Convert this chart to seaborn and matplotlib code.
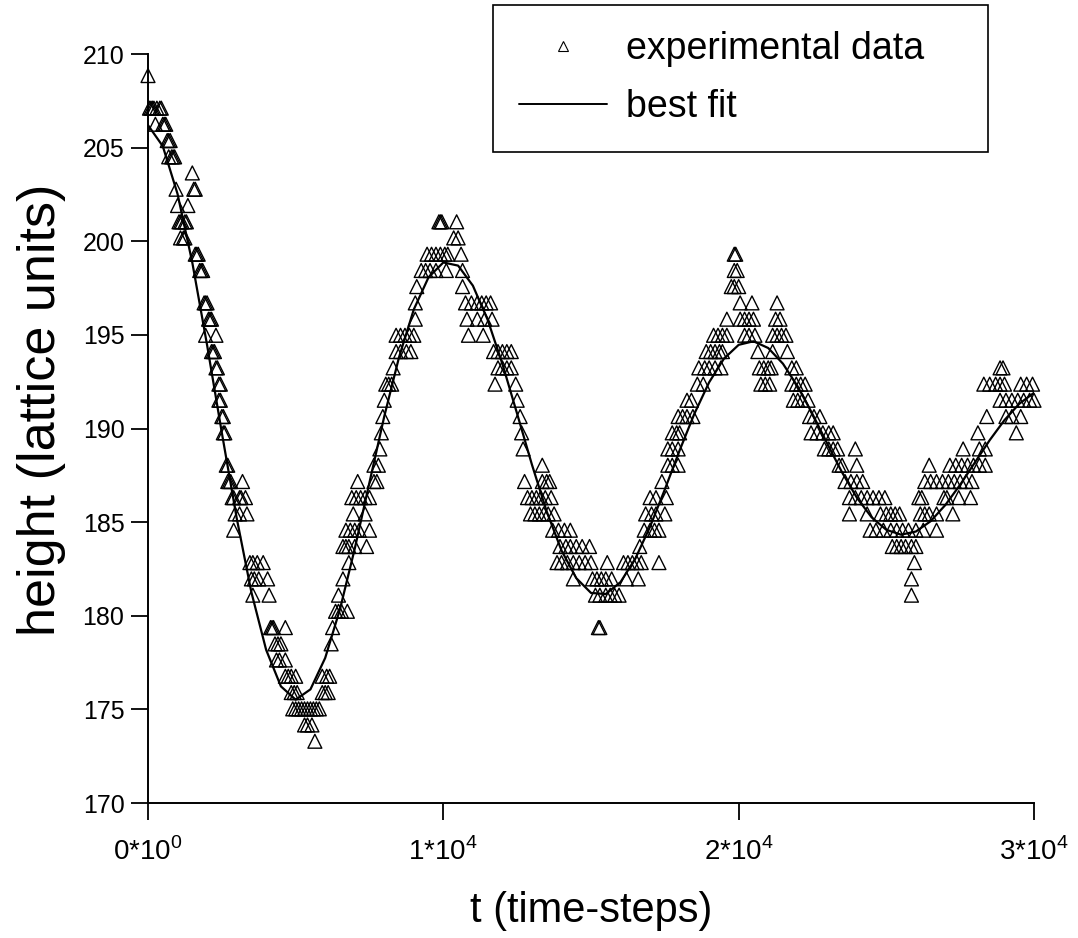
import matplotlib

matplotlib.use("Agg")
import matplotlib.pyplot as plt
from matplotlib.lines import Line2D
import pandas as pd
import seaborn as sns

# experimental data, read off the plot as (time-step, height) pairs,
# split by half swing of the oscillation
fall1 = [
    (0, 208.85),
    (50, 207.11), (100, 207.11), (150, 207.11), (200, 207.11), (300, 207.11), (400, 207.11), (450, 207.11),
    (250, 206.25), (500, 206.25), (550, 206.25), (600, 206.25),
    (650, 205.38), (700, 205.38), (750, 205.38),
    (700, 204.51), (800, 204.51), (850, 204.51), (900, 204.51),
    (1500, 203.65),
    (950, 202.78), (1550, 202.78), (1600, 202.78),
    (1000, 201.91), (1350, 201.91),
    (1050, 201.04), (1100, 201.04), (1150, 201.04), (1250, 201.04), (1300, 201.04),
    (1100, 200.18), (1200, 200.18), (1250, 200.18),
    (1600, 199.31), (1650, 199.31), (1700, 199.31),
    (1750, 198.44), (1800, 198.44), (1850, 198.44),
    (1900, 196.71), (1950, 196.71), (2000, 196.71),
    (2050, 195.84), (2100, 195.84), (2150, 195.84),
    (1950, 194.98), (2300, 194.98),
    (2150, 194.11), (2200, 194.11), (2250, 194.11),
    (2300, 193.24), (2350, 193.24),
    (2400, 192.37), (2450, 192.37),
    (2400, 191.51), (2450, 191.51),
    (2500, 190.64), (2550, 190.64),
    (2550, 189.77), (2600, 189.77),
    (2650, 188.04), (2700, 188.04),
    (2700, 187.17), (2750, 187.17), (2800, 187.17), (3200, 187.17),
    (2850, 186.31), (2900, 186.31), (3100, 186.31), (3150, 186.31), (3300, 186.31),
    (2950, 185.44), (3100, 185.44), (3350, 185.44),
    (2900, 184.57),
    (3450, 182.84), (3550, 182.84), (3700, 182.84), (3900, 182.84),
    (3500, 181.97), (3600, 181.97), (3750, 181.97), (4050, 181.97),
    (3550, 181.10), (4100, 181.10),
    (4150, 179.37), (4200, 179.37), (4250, 179.37), (4650, 179.37),
    (4300, 178.50), (4400, 178.50), (4500, 178.50),
    (4350, 177.64), (4450, 177.64), (4650, 177.64),
    (4650, 176.77), (4750, 176.77), (4850, 176.77), (5000, 176.77),
    (4850, 175.90), (4950, 175.90), (5050, 175.90),
    (4900, 175.03), (5000, 175.03), (5100, 175.03), (5200, 175.03), (5300, 175.03), (5400, 175.03), (5500, 175.03),
    (5300, 174.17), (5400, 174.17), (5550, 174.17),
    (5650, 173.30),
]

rise1 = [
    (5600, 175.03), (5700, 175.03), (5800, 175.03),
    (5900, 175.90), (6000, 175.90), (6100, 175.90),
    (5900, 176.77), (6050, 176.77), (6150, 176.77),
    (6200, 178.50),
    (6250, 179.37),
    (6350, 180.24), (6450, 180.24), (6550, 180.24), (6750, 180.24),
    (6450, 181.10),
    (6600, 181.97),
    (6800, 182.84),
    (6600, 183.70), (6700, 183.70), (6800, 183.70), (7000, 183.70), (7400, 183.70),
    (6700, 184.57), (6850, 184.57), (7000, 184.57), (7150, 184.57), (7500, 184.57),
    (6950, 185.44), (7350, 185.44),
    (6900, 186.31), (7050, 186.31), (7200, 186.31), (7350, 186.31), (7500, 186.31),
    (7100, 187.17), (7650, 187.17), (7750, 187.17),
    (7650, 188.04), (7800, 188.04),
    (7850, 188.91),
    (7900, 189.77),
    (7950, 190.64),
    (8000, 191.51),
    (8050, 192.37), (8150, 192.37), (8250, 192.37),
    (8300, 193.24),
    (8400, 194.11), (8550, 194.11), (8750, 194.11), (8900, 194.11),
    (8400, 194.98), (8550, 194.98), (8700, 194.98), (8850, 194.98), (9000, 194.98),
    (9050, 195.84),
    (9050, 196.71),
    (9100, 197.58),
    (9250, 198.44), (9400, 198.44), (9550, 198.44), (9750, 198.44), (10100, 198.44),
    (9450, 199.31), (9600, 199.31), (9750, 199.31), (9900, 199.31), (10050, 199.31), (10150, 199.31),
    (10350, 200.18), (10500, 200.18),
    (9850, 201.04), (9900, 201.04), (9950, 201.04), (10450, 201.04),
]

fall2 = [
    (10600, 199.31),
    (10650, 198.44),
    (10650, 197.58),
    (10750, 196.71), (10950, 196.71), (11150, 196.71), (11300, 196.71), (11450, 196.71), (11600, 196.71),
    (10800, 195.84), (11150, 195.84), (11400, 195.84), (11650, 195.84),
    (10850, 194.98), (11350, 194.98),
    (11700, 194.11), (11850, 194.11), (12000, 194.11), (12150, 194.11), (12300, 194.11),
    (11850, 193.24), (12000, 193.24), (12150, 193.24), (12300, 193.24),
    (11750, 192.37), (12450, 192.37),
    (12500, 191.51),
    (12600, 190.64),
    (12650, 189.77),
    (12700, 188.91),
    (13350, 188.04),
    (12750, 187.17), (13350, 187.17), (13500, 187.17), (13600, 187.17),
    (12850, 186.31), (13000, 186.31), (13150, 186.31), (13300, 186.31), (13450, 186.31), (13650, 186.31),
    (12950, 185.44), (13100, 185.44), (13250, 185.44), (13400, 185.44), (13550, 185.44), (13750, 185.44),
    (13700, 184.57), (13900, 184.57), (14100, 184.57), (14300, 184.57),
    (13950, 183.70), (14150, 183.70), (14300, 183.70), (14500, 183.70), (14700, 183.70), (14950, 183.70),
    (13850, 182.84), (14000, 182.84), (14200, 182.84), (14400, 182.84), (14600, 182.84), (14800, 182.84),
    (15000, 182.84), (15550, 182.84),
    (14400, 181.97), (15050, 181.97), (15200, 181.97), (15350, 181.97), (15500, 181.97), (15700, 181.97),
    (15150, 181.10), (15300, 181.10), (15500, 181.10), (15650, 181.10), (15800, 181.10), (15950, 181.10),
    (15250, 179.37), (15300, 179.37),
]

rise2 = [
    (16100, 182.84), (16250, 182.84), (16400, 182.84), (16550, 182.84), (16700, 182.84), (17300, 182.84),
    (16200, 181.97), (16600, 181.97),
    (16650, 183.70),
    (16800, 184.57), (17000, 184.57), (17150, 184.57), (17300, 184.57),
    (16850, 185.44), (17050, 185.44), (17200, 185.44), (17500, 185.44),
    (17000, 186.31), (17200, 186.31), (17550, 186.31),
    (17400, 187.17),
    (17600, 188.04), (17750, 188.04), (17950, 188.04),
    (17600, 188.91), (17750, 188.91), (17950, 188.91),
    (17750, 189.77), (17900, 189.77), (18000, 189.77),
    (17950, 190.64), (18100, 190.64), (18250, 190.64), (18450, 190.64),
    (18250, 191.51), (18400, 191.51),
    (18600, 192.37), (18800, 192.37),
    (18650, 193.24), (18850, 193.24), (19000, 193.24), (19200, 193.24), (19400, 193.24),
    (18900, 194.11), (19050, 194.11), (19200, 194.11), (19350, 194.11), (19450, 194.11),
    (19150, 194.98), (19300, 194.98), (19450, 194.98), (19600, 194.98),
    (19600, 195.84),
    (19750, 197.58), (19850, 197.58), (20000, 197.58),
    (19850, 198.44), (19950, 198.44),
    (19850, 199.31), (19900, 199.31),
]

fall3 = [
    (20050, 196.71), (20450, 196.71), (21300, 196.71),
    (20050, 195.84), (20200, 195.84), (20350, 195.84), (20500, 195.84), (21250, 195.84), (21400, 195.84),
    (20200, 194.98), (20350, 194.98), (20550, 194.98), (21150, 194.98), (21300, 194.98), (21450, 194.98),
    (21600, 194.98),
    (20650, 194.11), (21150, 194.11), (21650, 194.11),
    (20700, 193.24), (20850, 193.24), (21000, 193.24), (21100, 193.24), (21800, 193.24), (21950, 193.24),
    (20750, 192.37), (20900, 192.37), (21050, 192.37), (21800, 192.37), (21950, 192.37), (22100, 192.37),
    (22250, 192.37),
    (21850, 191.51), (22000, 191.51), (22150, 191.51), (22350, 191.51),
    (22400, 190.64), (22550, 190.64), (22750, 190.64),
    (22450, 189.77), (22650, 189.77), (22850, 189.77), (23050, 189.77), (23200, 189.77),
    (22900, 188.91), (23050, 188.91), (23200, 188.91), (23350, 188.91), (23950, 188.91),
    (23400, 188.04), (23500, 188.04), (24000, 188.04),
    (23600, 187.17), (23800, 187.17), (24000, 187.17), (24200, 187.17),
    (23750, 186.31), (23950, 186.31), (24150, 186.31), (24350, 186.31), (24550, 186.31), (24750, 186.31),
    (24950, 186.31),
    (23750, 185.44), (24350, 185.44), (24800, 185.44), (25000, 185.44), (25150, 185.44), (25300, 185.44),
    (25450, 185.44),
    (24450, 184.57), (24650, 184.57), (24900, 184.57), (25150, 184.57), (25350, 184.57), (25550, 184.57),
    (25750, 184.57), (26000, 184.57),
    (25200, 183.70), (25350, 183.70), (25500, 183.70), (25650, 183.70), (25850, 183.70), (26000, 183.70),
    (25950, 182.84),
    (25850, 181.97),
    (25850, 181.10),
]

rise3 = [
    (26250, 184.57), (26700, 184.57),
    (26150, 185.44), (26300, 185.44), (26450, 185.44), (26700, 185.44), (27250, 185.44),
    (26100, 186.31), (26200, 186.31), (26950, 186.31), (27050, 186.31), (27450, 186.31), (27850, 186.31),
    (26300, 187.17), (26500, 187.17), (26700, 187.17), (26900, 187.17), (27100, 187.17), (27300, 187.17),
    (27500, 187.17), (27700, 187.17), (27900, 187.17),
    (26450, 188.04), (27150, 188.04), (27350, 188.04), (27550, 188.04), (27750, 188.04), (27950, 188.04),
    (28150, 188.04), (28350, 188.04),
    (27600, 188.91), (28150, 188.91), (28350, 188.91),
    (28100, 189.77), (29400, 189.77),
    (28400, 190.64), (29050, 190.64), (29250, 190.64), (29550, 190.64),
    (28850, 191.51), (29050, 191.51), (29250, 191.51), (29450, 191.51), (29650, 191.51), (29850, 191.51),
    (30000, 191.51),
    (28300, 192.37), (28500, 192.37), (28700, 192.37), (28850, 192.37), (29000, 192.37), (29550, 192.37),
    (29750, 192.37), (29950, 192.37),
    (28850, 193.24), (28950, 193.24),
]

# best-fit curve, sampled every 500 time-steps
t_fit = list(range(0, 30001, 500))
h_fit = [
    206.20, 205.08, 202.53, 198.86, 194.46, 189.77, 185.24, 181.26, 178.18, 176.23,
    175.52, 176.07, 177.75, 180.35, 183.58, 187.13, 190.65, 193.81, 196.36, 198.08,
    198.87, 198.70, 197.63, 195.81, 193.45, 190.78, 188.07, 185.57, 183.49, 182.01,
    181.22, 181.16, 181.80, 183.05, 184.76, 186.75, 188.83, 190.79, 192.47, 193.73,
    194.47, 194.66, 194.30, 193.46, 192.24, 190.77, 189.19, 187.66, 186.31, 185.26,
    184.59, 184.33, 184.50, 185.05, 185.92, 187.00, 188.19, 189.38, 190.45, 191.32,
    191.91,
]

x_ticks = [0, 10000, 20000, 30000]
x_tick_labels = [
    r"0*10$^{\mathregular{0}}$",
    r"1*10$^{\mathregular{4}}$",
    r"2*10$^{\mathregular{4}}$",
    r"3*10$^{\mathregular{4}}$",
]
y_ticks = [170, 175, 180, 185, 190, 195, 200, 205, 210]

sns.set_theme(style="ticks")
plt.rcParams["font.family"] = ["Liberation Sans", "DejaVu Sans"]
plt.rcParams["mathtext.fontset"] = "custom"
plt.rcParams["mathtext.rm"] = "Liberation Sans"
plt.rcParams["text.color"] = "black"
plt.rcParams["axes.labelcolor"] = "black"

exp_df = pd.DataFrame(fall1 + rise1 + fall2 + rise2 + fall3 + rise3, columns=["t", "height"])
fit_df = pd.DataFrame({"t": t_fit, "height": h_fit})

fig = plt.figure(figsize=(10.78, 9.38), dpi=100)
ax = fig.add_axes([0.1373, 0.1439, 0.8219, 0.7985])

sns.scatterplot(
    data=exp_df, x="t", y="height", marker="^", s=100,
    facecolor="none", edgecolor="black", linewidth=1.0,
    clip_on=False, zorder=3, ax=ax,
)
sns.lineplot(data=fit_df, x="t", y="height", color="black", linewidth=1.6, ax=ax, zorder=4)

ax.set_xlim(0, 30000)
ax.set_ylim(170, 210)
ax.set_xticks(x_ticks)
ax.set_xticklabels(x_tick_labels)
ax.set_yticks(y_ticks)
ax.set_xlabel("t (time-steps)", fontsize=30, labelpad=18, color="black")
ax.set_ylabel("height (lattice units)", fontsize=37.5, color="black")
ax.yaxis.set_label_coords(-0.092, 0.525)
ax.tick_params(direction="out", length=12, width=1.3, colors="black")
ax.tick_params(axis="x", labelsize=20, pad=13)
ax.tick_params(axis="y", labelsize=18, pad=5)
sns.despine(ax=ax)
for side in ("left", "bottom"):
    ax.spines[side].set_linewidth(1.4)
    ax.spines[side].set_color("black")

handles = [
    Line2D([], [], ls="none", marker="^", markersize=7, mfc="none", mec="black", mew=0.8),
    Line2D([], [], color="black", linewidth=1.4),
]
leg = ax.legend(
    handles, ["experimental data", "best fit"],
    loc="upper left", bbox_to_anchor=(0.4573, 0.838, 0.4592, 0.157),
    bbox_transform=fig.transFigure, mode="expand",
    fontsize=27, frameon=True, fancybox=False, framealpha=1,
    edgecolor="black", borderpad=0.7, handlelength=2.35, handletextpad=0.5,
    labelspacing=0.6, borderaxespad=0, labelcolor="black",
)
leg.get_frame().set_linewidth(1.2)

fig.savefig("out.png", dpi=100, facecolor="white")
